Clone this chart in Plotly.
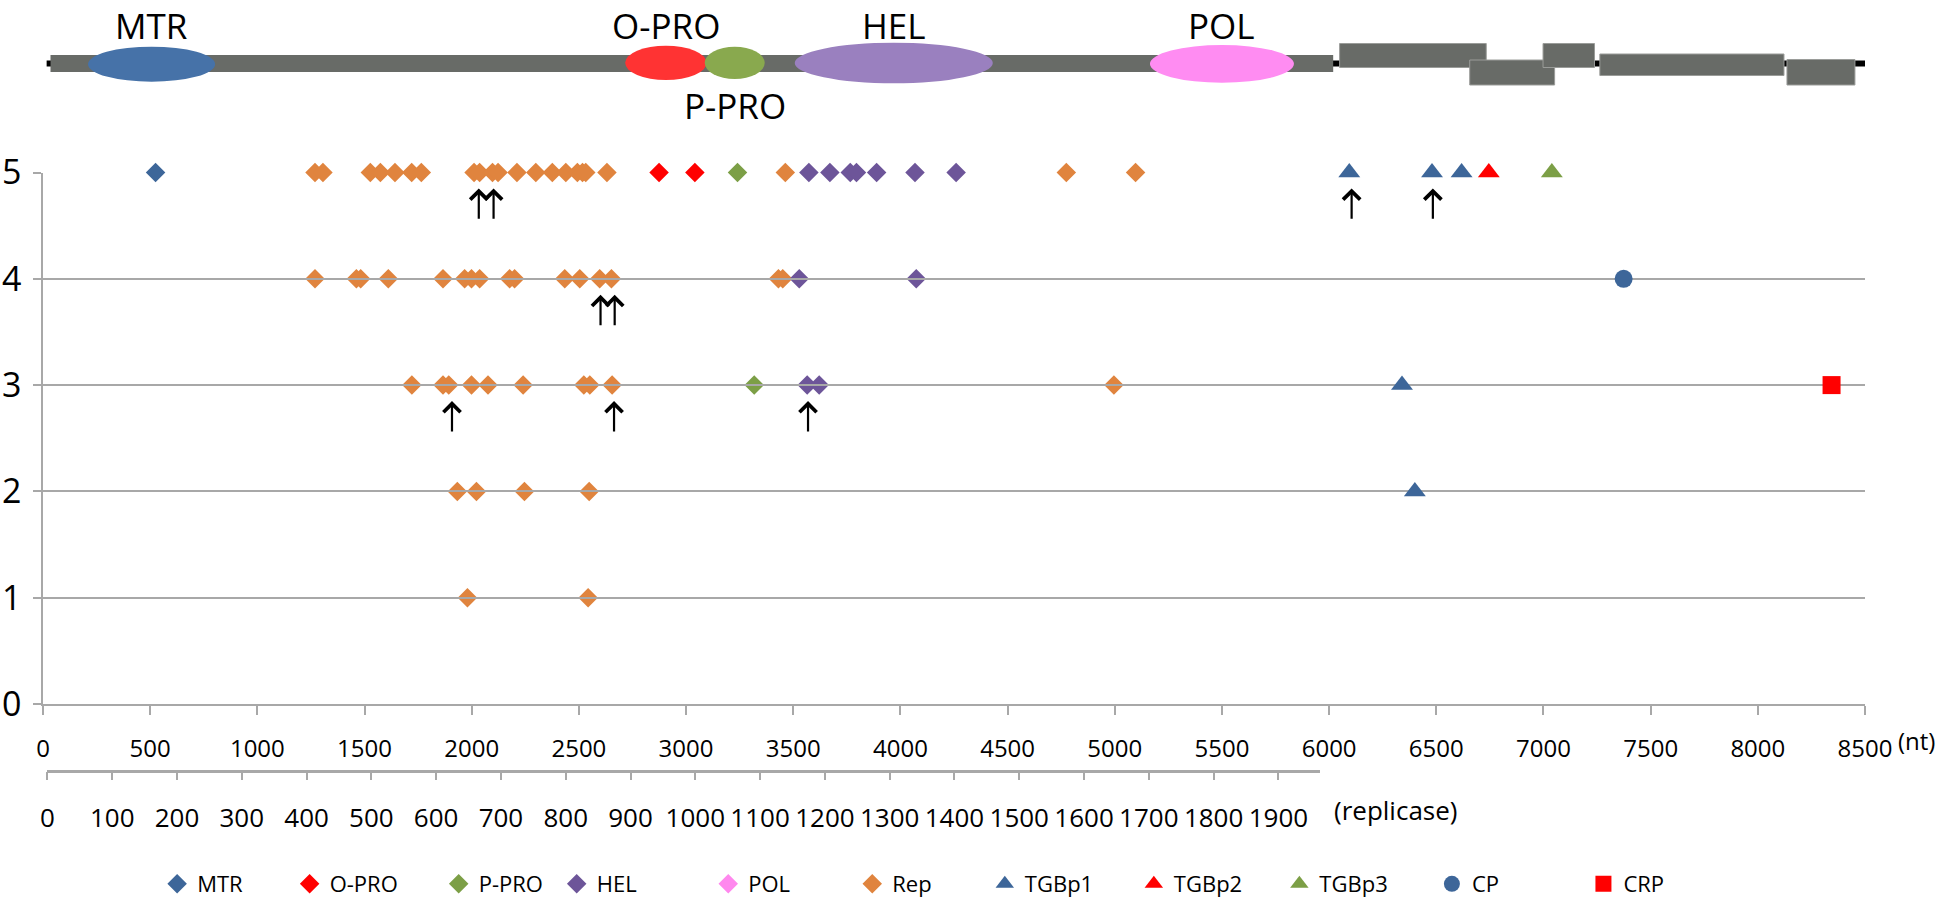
import plotly.graph_objects as go

# ---------------- data ----------------
rows = [1, 2, 3, 4, 5]
nt_ticks = list(range(0, 8501, 500))
aa_ticks = list(range(0, 1901, 100))

mtr_x, mtr_y = [525], [5]
opro_x, opro_y = [2874, 3041], [5, 5]
ppro_x, ppro_y = [3240, 3318], [5, 3]
hel_x = [3573, 3671, 3766, 3795, 3889, 4068, 4260, 3528, 4074, 3565, 3621]
hel_y = [5, 5, 5, 5, 5, 5, 5, 4, 4, 3, 3]
pol_x, pol_y = [None], [None]
rep_x5 = [1269, 1306, 1527, 1574, 1642, 1720, 1765, 2011, 2037, 2097, 2123, 2211,
          2299, 2376, 2439, 2493, 2517, 2532, 2631, 3463, 4774, 5097]
rep_x4 = [1269, 1462, 1482, 1611, 1866, 1967, 1999, 2037, 2177, 2200, 2434, 2504,
          2597, 2652, 3431, 3451]
rep_x3 = [1721, 1866, 1893, 1999, 2076, 2240, 2523, 2551, 2655, 4996]
rep_x2 = [1933, 2022, 2246, 2548]
rep_x1 = [1980, 2543]
tgb1_x, tgb1_y = [6094, 6480, 6618, 6340, 6400], [5, 5, 5, 3, 2]
tgb2_x, tgb2_y = [6745], [5]
tgb3_x, tgb3_y = [7039], [5]
cp_x, cp_y = [7374], [4]
crp_x, crp_y = [8344], [3]

arrow_x = [2033, 2102, 6105, 6484, 2601, 2667, 1908, 2664, 3569]
arrow_row = [5, 5, 5, 5, 4, 4, 3, 3, 3]

# genome map (nt)
domain_names = ["MTR", "O-PRO", "P-PRO", "HEL", "POL"]
domain_start = [210, 2716, 3087, 3507, 5164]
domain_end = [803, 3096, 3367, 4431, 5836]
genome_start, genome_end = 17, 8502
replicase_start, replicase_end = 35, 6019
orf_start = [6049, 6656, 6998, 7263, 8136]
orf_end = [6733, 7052, 7238, 8122, 8453]

# ---------------- layout helpers ----------------
W, H = 1946, 905
L, R = 43.4, 81


def fy(p):
    return (H - p) / H


def fx(p):
    return (p - L) / (W - L - R)


FONT = "Open Sans, Noto Sans, sans-serif"
BLUE, RED, GREEN, PURPLE, PINK, ORANGE = "#3d6699", "#ff0000", "#7c9f46", "#6d5599", "#ff88ee", "#e0843e"
GRID = "#a8a8a8"

fig = go.Figure()
legend_px = {"MTR": 177.5, "O-PRO": 310, "P-PRO": 459, "HEL": 577, "POL": 728.5, "Rep": 872.5,
             "TGBp1": 1005, "TGBp2": 1154, "TGBp3": 1299.5, "CP": 1452, "CRP": 1603.5}
legend_order = list(legend_px.keys())
legends = {}


def add(name, x, y, symbol, color, size):
    k = legend_order.index(name) + 1
    lid = "legend" if k == 1 else "legend%d" % k
    legends[lid] = dict(orientation="h", x=fx(legend_px[name] - 20), y=fy(884), xanchor="left",
                        yanchor="middle", font=dict(size=22, family=FONT), itemsizing="trace",
                        bgcolor="rgba(0,0,0,0)", borderwidth=0)
    fig.add_trace(go.Scatter(x=x, y=y, mode="markers", name=name, cliponaxis=False, legend=lid,
                             marker=dict(symbol=symbol, color=color, size=size, line=dict(width=0))))


rep_x = rep_x5 + rep_x4 + rep_x3 + rep_x2 + rep_x1
rep_y = [5] * len(rep_x5) + [4] * len(rep_x4) + [3] * len(rep_x3) + [2] * len(rep_x2) + [1] * len(rep_x1)

add("Rep", rep_x, rep_y, "diamond", ORANGE, 15)
add("MTR", mtr_x, mtr_y, "diamond", BLUE, 15)
add("O-PRO", opro_x, opro_y, "diamond", RED, 15)
add("P-PRO", ppro_x, ppro_y, "diamond", GREEN, 15)
add("HEL", hel_x, hel_y, "diamond", PURPLE, 15)
add("POL", pol_x, pol_y, "diamond", PINK, 15)
add("TGBp1", tgb1_x, tgb1_y, "triangle-up", BLUE, 19)
add("TGBp2", tgb2_x, tgb2_y, "triangle-up", RED, 19)
add("TGBp3", tgb3_x, tgb3_y, "triangle-up", GREEN, 19)
add("CP", cp_x, cp_y, "circle", BLUE, 18)
add("CRP", crp_x, crp_y, "square", RED, 18)

# dummy trace to carry the replicase axis
fig.add_trace(go.Scatter(x=[None], y=[None], xaxis="x2", yaxis="y", showlegend=False, hoverinfo="skip"))

# arrows
for ax_, r_ in zip(arrow_x, arrow_row):
    fig.add_annotation(x=ax_, y=r_ - 0.15, ax=ax_, ay=r_ - 0.45, xref="x", yref="y",
                       axref="x", ayref="y", text="", showarrow=True, arrowhead=4,
                       arrowsize=1.5, arrowwidth=2.2, arrowcolor="black")


# genome map shapes
def bar(x0, x1, y0p, y1p, color, lw=0, lc=None):
    fig.add_shape(type="rect", xref="x", yref="paper", x0=x0, x1=x1, y0=fy(y1p), y1=fy(y0p),
                  fillcolor=color, line=dict(width=lw, color=lc or color), layer="above")


bar(genome_start, genome_end, 60.5, 66.5, "black")
bar(replicase_start, replicase_end, 55, 72, "#686b67")
orf_y = [(43.5, 67.5), (60, 85), (43.5, 67.5), (54, 75.5), (59.5, 85)]
for s, e, (a, b) in zip(orf_start, orf_end, orf_y):
    bar(s, e, a, b, "#686b67", 1, "#9a9c99")

dom_colors = ["#4672a8", "#ff3333", "#89a94e", "#9a80bf", "#ff8cf2"]
dom_y = [(46.7, 81.7), (45.7, 80), (46.7, 79), (42.7, 83.3), (45, 82.7)]
for n, s, e, c, (a, b) in zip(domain_names, domain_start, domain_end, dom_colors, dom_y):
    fig.add_shape(type="circle", xref="x", yref="paper", x0=s, x1=e, y0=fy(b), y1=fy(a),
                  fillcolor=c, line=dict(width=0), layer="above")
    below = n == "P-PRO"
    fig.add_annotation(x=(s + e) / 2, y=fy(106) if below else 1.0, xref="x", yref="paper", text=n,
                       showarrow=False, font=dict(family=FONT, size=35, color="black"),
                       xanchor="center", yanchor="middle" if below else "top")

# axis unit labels
fig.add_annotation(x=fx(1896), y=fy(740), xref="paper", yref="paper", text="(nt)", showarrow=False,
                   font=dict(family=FONT, size=24, color="black"), xanchor="left", yanchor="middle")
fig.add_annotation(x=fx(1396), y=fy(810), xref="paper", yref="paper", text="(replicase)", showarrow=False,
                   font=dict(family=FONT, size=26, color="black"), xanchor="center", yanchor="middle")

fig.update_layout(
    width=W, height=H,
    margin=dict(l=L, r=R, t=0, b=0, autoexpand=False),
    paper_bgcolor="white", plot_bgcolor="rgba(0,0,0,0)",
    font=dict(family=FONT, color="black"),
    xaxis=dict(range=[0, 8500], tickvals=nt_ticks, showgrid=False, zeroline=False,
               showline=True, linecolor=GRID, linewidth=1.5, ticks="outside", ticklen=9,
               tickcolor=GRID, tickwidth=1.5, tickfont=dict(size=24), ticklabelstandoff=13,
               anchor="y", automargin=False),
    xaxis2=dict(domain=[fx(47.8), fx(1320)], range=[0, 1964], tickvals=aa_ticks, anchor="free",
                position=fy(770.7), showgrid=False, zeroline=False, showline=True, linecolor=GRID,
                linewidth=2.5, ticks="outside", ticklen=8, tickcolor=GRID, tickwidth=1.5,
                tickfont=dict(size=26), ticklabelstandoff=15, automargin=False),
    yaxis=dict(domain=[fy(704), fy(172.5)], range=[0, 5], tickvals=[0] + rows, showgrid=True,
               gridcolor=GRID, gridwidth=1.5, zeroline=False, showline=True, linecolor=GRID,
               linewidth=1.5, ticks="outside", ticklen=8, tickcolor=GRID, tickwidth=1.5,
               tickfont=dict(size=34), ticklabelstandoff=5, automargin=False),
    showlegend=True,
    **legends,
)

fig.write_html("out.html", config={"displayModeBar": False},
               post_script="document.body.style.margin='0';document.body.style.overflow='hidden';")
